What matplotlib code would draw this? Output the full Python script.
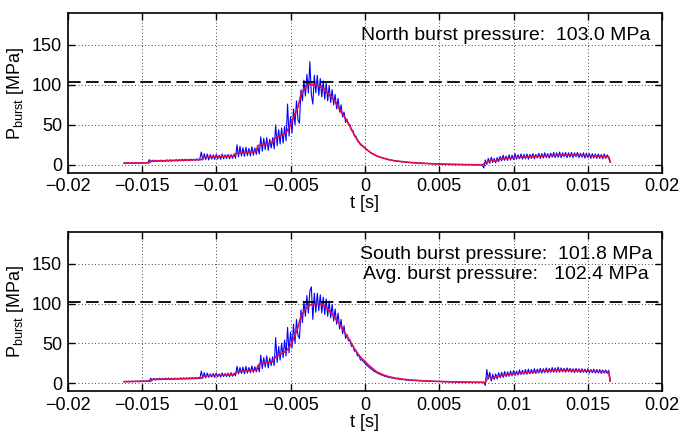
import numpy as np
import matplotlib
matplotlib.use("Agg")
from matplotlib import pyplot as plt

plt.rcParams['font.family'] = ['Liberation Sans', 'DejaVu Sans']
plt.rcParams['mathtext.default'] = 'regular'

# raw signal, sampled every 0.1 ms starting at -16.2 ms
t_start = -0.0162
t_step = 0.0001

north_raw = [
    2.0, 2.4, 1.8, 2.3, 2.0, 2.5, 1.9, 2.4, 2.0, 2.5,
    2.1, 2.6, 2.0, 2.7, 2.2, 2.6, 2.4, 6.5, 3.5, 5.8,
    3.8, 5.9, 4.0, 5.6, 4.2, 6.0, 4.1, 5.7, 4.4, 6.2,
    4.5, 6.3, 4.6, 6.0, 4.8, 6.5, 4.7, 6.4, 5.0, 6.8,
    5.0, 6.9, 5.2, 6.8, 5.4, 7.2, 5.5, 7.1, 5.7, 7.4,
    5.8, 7.5, 16.0, 6.0, 14.0, 6.5, 13.5, 6.0, 12.8, 7.0,
    12.5, 6.8, 13.0, 7.2, 12.0, 6.9, 13.5, 7.5, 12.5, 7.8,
    13.0, 7.5, 12.8, 8.0, 13.5, 8.2, 25.0, 10.0, 23.0, 11.0,
    21.5, 10.5, 22.0, 11.5, 20.5, 11.0, 22.5, 12.0, 21.0, 13.0,
    23.0, 13.5, 35.0, 17.0, 33.0, 19.0, 34.0, 18.0, 32.0, 21.0,
    34.0, 20.0, 50.0, 24.0, 44.0, 26.0, 46.0, 27.0, 48.0, 30.0,
    76.0, 36.0, 60.0, 40.0, 70.0, 50.0, 80.0, 56.0, 52.0, 94.0,
    80.0, 106.0, 86.0, 113.0, 90.0, 129.0, 88.0, 76.0, 112.0, 90.0,
    112.0, 87.0, 108.0, 85.0, 105.0, 82.0, 102.0, 80.0, 99.0, 78.0,
    94.0, 75.0, 88.0, 70.0, 83.0, 66.0, 75.0, 60.0, 66.0, 53.0,
    57.0, 50.0, 50.0, 43.0, 43.0, 36.0, 36.0, 30.0, 29.0, 25.0,
    24.0, 22.5, 21.0, 19.5, 18.0, 16.5, 15.0, 14.0, 13.0, 12.0,
    11.0, 10.3, 9.6, 9.0, 8.5, 8.0, 7.5, 7.0, 6.6, 6.2,
    5.8, 5.5, 5.0, 4.8, 4.5, 4.3, 4.0, 3.8, 3.6, 3.4,
    3.2, 3.0, 2.9, 2.7, 2.6, 2.4, 2.3, 2.2, 2.1, 2.0,
    1.9, 1.8, 1.7, 1.6, 1.5, 1.4, 1.4, 1.3, 1.2, 1.1,
    1.1, 1.0, 1.0, 0.9, 0.9, 0.8, 0.8, 0.7, 0.7, 0.6,
    0.6, 0.5, 0.5, 0.5, 0.4, 0.4, 0.4, 0.3, 0.3, 0.3,
    0.3, 0.2, 0.2, 0.2, 0.1, 0.1, 0.1, 0.0, 0.0, 0.0,
    0.0, -0.5, -4.0, 6.0, 0.5, 8.0, 2.0, 9.5, 3.0, 8.0,
    2.5, 9.0, 4.0, 10.5, 5.0, 12.0, 5.5, 11.0, 5.5, 12.5,
    6.0, 12.0, 6.5, 14.0, 7.0, 12.5, 7.5, 13.5, 7.0, 13.0,
    7.5, 13.5, 7.0, 13.0, 8.0, 14.0, 7.5, 13.0, 8.5, 14.5,
    8.0, 14.0, 8.5, 15.0, 9.0, 14.0, 8.5, 14.5, 9.5, 15.5,
    9.0, 15.0, 9.5, 16.0, 9.0, 15.0, 10.0, 15.5, 9.0, 15.0,
    9.5, 15.5, 9.0, 15.0, 10.0, 15.5, 9.0, 14.5, 9.5, 15.0,
    8.5, 14.5, 9.0, 14.0, 8.0, 14.0, 8.5, 13.5, 8.0, 13.5,
    8.0, 13.0, 7.5, 13.5, 8.0, 12.5, 8.5, 3.0,
]

south_raw = [
    1.5, 2.0, 1.4, 2.1, 1.5, 2.2, 1.6, 2.3, 1.7, 2.4,
    1.8, 2.5, 1.9, 2.6, 2.0, 2.7, 2.1, 2.8, 6.0, 3.5,
    5.9, 3.8, 5.7, 4.0, 6.0, 4.1, 5.8, 4.3, 6.1, 4.4,
    6.2, 4.5, 6.1, 4.6, 6.3, 4.7, 6.2, 4.8, 6.5, 4.9,
    6.6, 5.0, 6.5, 5.1, 6.7, 5.2, 6.8, 5.3, 6.9, 5.5,
    7.0, 5.6, 15.0, 6.0, 13.0, 6.5, 12.5, 7.0, 11.5, 7.5,
    12.0, 7.0, 12.5, 7.8, 11.5, 7.5, 12.8, 8.0, 12.0, 8.2,
    12.5, 8.0, 13.0, 8.5, 12.5, 9.0, 21.0, 11.5, 19.5, 12.0,
    20.0, 11.5, 21.0, 12.5, 19.5, 13.0, 21.5, 13.5, 20.5, 14.0,
    22.0, 14.0, 35.0, 18.0, 32.0, 20.0, 34.0, 19.0, 31.5, 22.0,
    33.0, 22.0, 57.0, 26.0, 46.0, 29.0, 50.0, 32.0, 54.0, 34.0,
    70.0, 38.0, 64.0, 44.0, 74.0, 50.0, 80.0, 60.0, 56.0, 92.0,
    76.0, 103.0, 84.0, 110.0, 88.0, 116.0, 121.0, 80.0, 113.0, 89.0,
    113.0, 91.0, 111.0, 88.0, 108.0, 86.0, 106.0, 84.0, 103.0, 82.0,
    99.0, 78.0, 93.0, 74.0, 88.0, 68.0, 80.0, 62.0, 72.0, 56.0,
    61.0, 53.0, 54.0, 46.0, 47.0, 40.0, 41.0, 34.0, 35.0, 29.0,
    29.0, 27.0, 25.0, 23.0, 21.0, 19.5, 18.0, 16.5, 15.0, 14.0,
    13.0, 12.0, 11.0, 10.2, 9.5, 8.8, 8.2, 7.7, 7.2, 6.8,
    6.4, 6.0, 5.7, 5.4, 5.1, 4.8, 4.6, 4.4, 4.2, 4.0,
    3.8, 3.7, 3.5, 3.4, 3.3, 3.2, 3.1, 3.0, 2.9, 2.8,
    2.7, 2.6, 2.5, 2.4, 2.4, 2.3, 2.2, 2.1, 2.1, 2.0,
    2.0, 1.9, 1.8, 1.8, 1.7, 1.7, 1.6, 1.6, 1.5, 1.5,
    1.4, 1.4, 1.3, 1.3, 1.3, 1.2, 1.2, 1.2, 1.1, 1.1,
    1.1, 1.0, 1.0, 1.0, 1.0, 0.9, 0.9, 0.9, 0.9, 0.8,
    0.8, 0.8, 0.8, -3.0, 17.0, 5.0, 13.5, 2.5, 11.0, 4.5,
    11.5, 5.0, 13.0, 6.5, 13.5, 7.0, 14.5, 8.0, 14.0, 8.5,
    15.0, 9.0, 15.5, 9.5, 15.0, 10.0, 16.5, 10.5, 16.0, 11.0,
    17.0, 11.0, 17.5, 11.5, 17.0, 12.0, 18.0, 12.0, 17.5, 12.5,
    18.5, 12.5, 18.0, 13.0, 19.0, 13.0, 18.5, 13.5, 19.5, 13.5,
    19.0, 13.5, 20.0, 13.5, 19.0, 14.0, 18.5, 13.5, 19.0, 14.0,
    18.5, 13.5, 18.0, 13.0, 18.5, 13.5, 18.0, 13.0, 18.0, 13.5,
    17.5, 13.0, 18.0, 12.5, 17.0, 13.0, 17.5, 12.5, 17.0, 12.5,
    17.0, 12.0, 16.5, 12.5, 16.5, 12.0, 16.0, 2.0,
]

# smoothed (filtered) curves
north_t = [-0.0162, -0.0145, -0.0144, -0.011, -0.0108, -0.0088, -0.0087, -0.0073,
           -0.0072, -0.0062, -0.0061, -0.0053, -0.005, -0.0047, -0.0045, -0.0043,
           -0.004, -0.0037, -0.0033, -0.003, -0.0027, -0.0024, -0.002, -0.0016,
           -0.0013, -0.001, -0.0007, -0.0004, 0.0, 0.0004, 0.0008, 0.0012, 0.0016,
           0.002, 0.003, 0.004, 0.005, 0.006, 0.007, 0.0079, 0.0081, 0.0085, 0.0088,
           0.009, 0.0095, 0.01, 0.011, 0.012, 0.013, 0.014, 0.015, 0.016, 0.0164, 0.0165]
north_smooth = [2.0, 2.5, 4.5, 6.5, 9.5, 11.0, 14.0, 17.0,
                24.0, 28.0, 33.0, 40.0, 50.0, 64.0, 72.0, 88.0,
                97.0, 101.0, 100.0, 98.0, 94.0, 88.0, 79.0, 66.0,
                58.0, 48.0, 37.0, 28.0, 21.0, 15.0, 11.0, 8.5, 6.5,
                5.0, 3.0, 1.8, 1.0, 0.5, 0.2, 0.0, 2.0, 6.0, 4.5,
                6.5, 8.0, 9.0, 10.0, 11.0, 12.0, 12.3, 11.5, 10.5, 10.0, 4.0]

south_t = [-0.0162, -0.0144, -0.0143, -0.011, -0.0108, -0.0088, -0.0086, -0.0073,
           -0.0071, -0.0062, -0.006, -0.0053, -0.005, -0.0047, -0.0045, -0.0043,
           -0.004, -0.0037, -0.0034, -0.003, -0.0027, -0.0024, -0.002, -0.0017,
           -0.0014, -0.001, -0.0007, -0.0004, 0.0, 0.0004, 0.0008, 0.0012, 0.0016,
           0.002, 0.003, 0.004, 0.005, 0.006, 0.007, 0.0081, 0.0083, 0.0086, 0.009,
           0.0095, 0.01, 0.011, 0.012, 0.013, 0.014, 0.015, 0.016, 0.0164, 0.0165]
south_smooth = [1.8, 2.3, 4.5, 6.0, 9.0, 10.5, 14.0, 16.5,
                24.0, 27.0, 33.0, 40.0, 47.0, 60.0, 70.0, 84.0,
                93.0, 98.0, 100.0, 99.5, 97.0, 91.0, 82.0, 74.0,
                65.0, 53.0, 43.0, 35.0, 27.0, 20.0, 14.0, 10.5, 8.0,
                6.3, 3.8, 2.7, 2.0, 1.4, 1.0, 0.8, 8.0, 6.0, 9.0,
                10.5, 11.5, 13.5, 15.0, 16.0, 15.8, 15.0, 14.3, 14.0, 3.0]

north_burst = 103.0
south_burst = 101.8
avg_burst = 102.4

xticks = [-0.02, -0.015, -0.01, -0.005, 0, 0.005, 0.01, 0.015, 0.02]
xticklabels = ['\u22120.02', '\u22120.015', '\u22120.01', '\u22120.005', '0',
               '0.005', '0.01', '0.015', '0.02']
yticks = [0, 50, 100, 150]


def draw_panel(ax, raw, st, sp, burst, lines):
    t = t_start + t_step * np.arange(len(raw))
    ax.plot(t, raw, color=(0, 0, 1), lw=0.8)
    ax.plot(st, sp, color=(0.88, 0.05, 0.3), lw=1.2)
    ax.axhline(burst, color='k', ls=(0, (7, 3)), lw=1.3)
    ax.set_xlim(-0.02, 0.02)
    ax.set_ylim(-10, 190)
    ax.set_xticks(xticks)
    ax.set_xticklabels(xticklabels)
    ax.set_yticks(yticks)
    ax.grid(True, color='k', ls=(0, (1, 3)), lw=0.6)
    ax.tick_params(direction='in', top=True, right=True, labelsize=13,
                   length=5, width=1, pad=4)
    for s in ax.spines.values():
        s.set_linewidth(1.2)
    ax.set_xlabel('t [s]', fontsize=13, labelpad=0)
    ax.set_ylabel('P$_{burst}$ [MPa]', fontsize=13, labelpad=4)
    for i, txt in enumerate(lines):
        ax.text(0.737, 0.86 - 0.13 * i, txt, transform=ax.transAxes,
                ha='center', va='center', fontsize=14)


fig = plt.figure(figsize=(6.82, 4.32), dpi=100)
ax1 = fig.add_axes([0.099, 0.600, 0.872, 0.370])
ax2 = fig.add_axes([0.099, 0.095, 0.872, 0.368])

draw_panel(ax1, north_raw, north_t, north_smooth, north_burst,
           ['North burst pressure:  %.1f MPa' % north_burst])
draw_panel(ax2, south_raw, south_t, south_smooth, south_burst,
           ['South burst pressure:  %.1f MPa' % south_burst,
            'Avg. burst pressure:   %.1f MPa' % avg_burst])

fig.savefig('out.png', dpi=100)
